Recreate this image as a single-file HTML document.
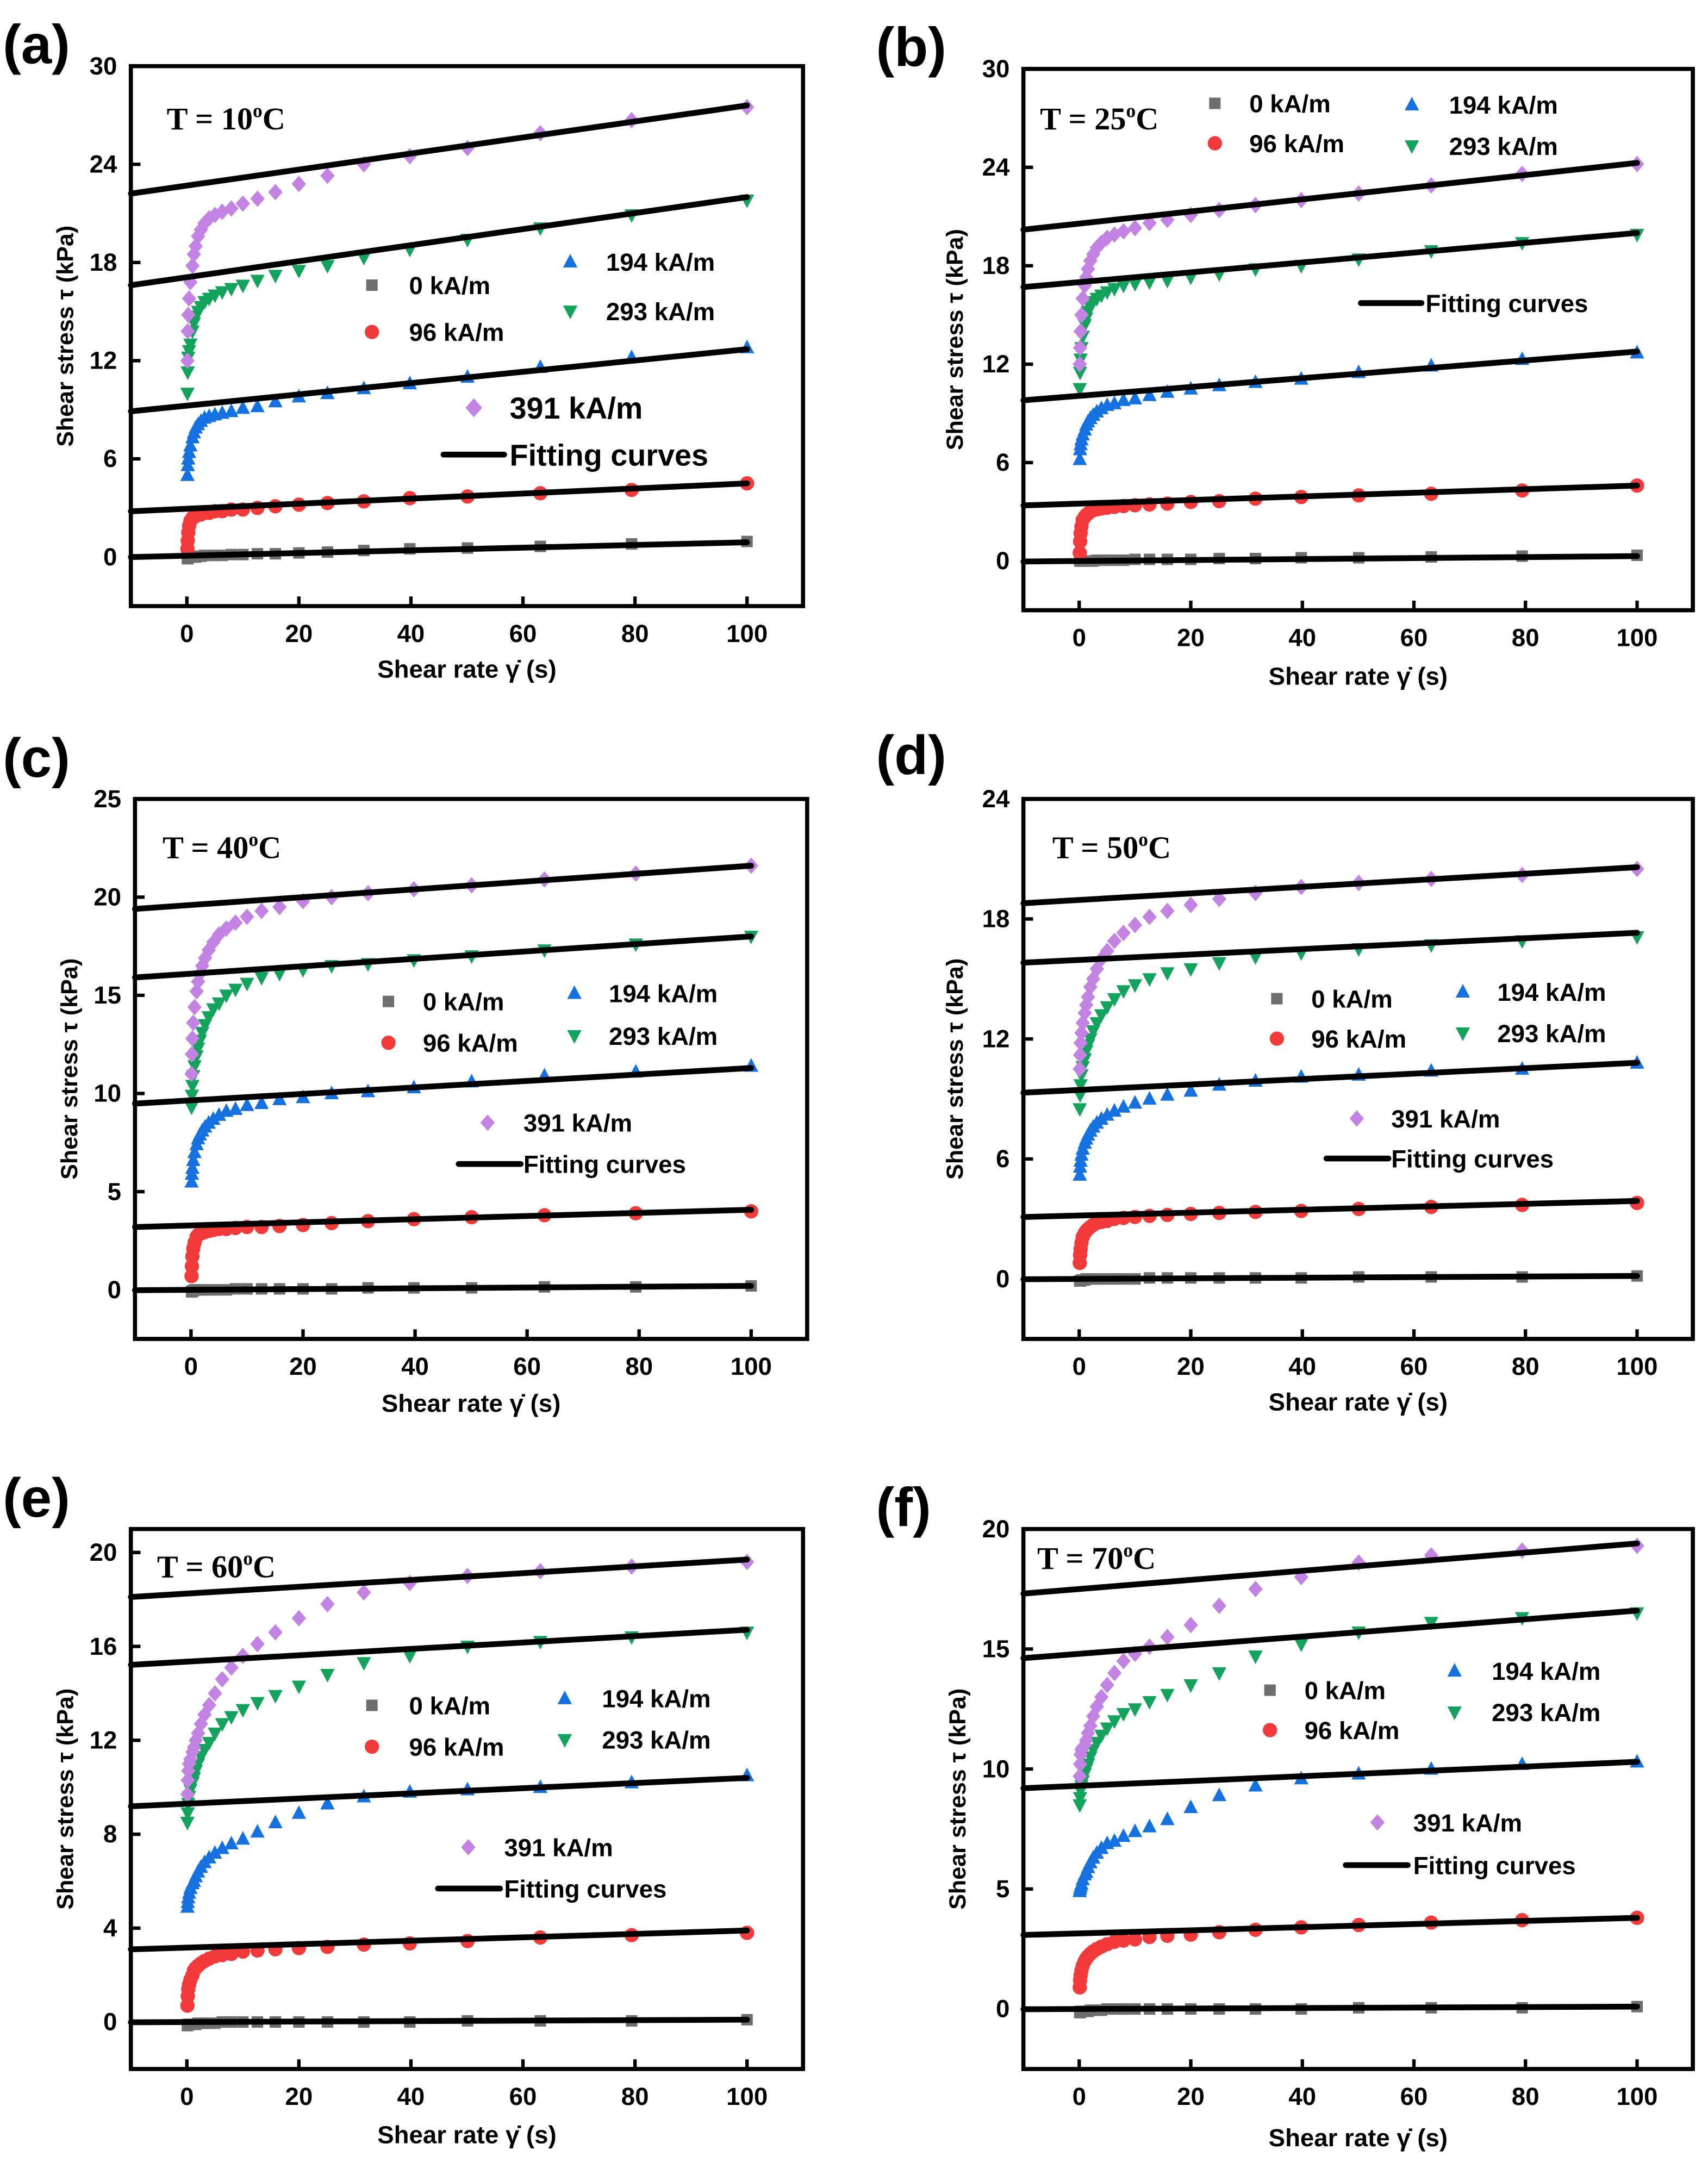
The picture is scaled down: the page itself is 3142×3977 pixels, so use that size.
<!DOCTYPE html>
<html><head><meta charset="utf-8"><style>
html,body{margin:0;padding:0;background:#fff;}
svg{display:block;}
text{font-family:"Liberation Sans",sans-serif;font-weight:bold;}
</style></head><body>
<svg id="fig" width="3142" height="3977" viewBox="0 0 1240 1569.5" xmlns="http://www.w3.org/2000/svg"></svg>
<script>
// shared shear-rate sample points (1/s)
const shearRates = [0.1,0.16,0.25,0.4,0.63,1,1.26,1.58,2,2.51,3.16,3.98,5.01,6.31,7.94,10,12.6,15.8,20,25.1,31.6,39.8,50.1,63.1,79.4,100];
const seriesNames = ['0 kA/m','96 kA/m','194 kA/m','293 kA/m','391 kA/m'];
const panelLabels = ['(a)','(b)','(c)','(d)','(e)','(f)'];
const panelTemps = ['10','25','40','50','60','70'];
const yTickLabels = [[0,6,12,18,24,30],[0,6,12,18,24,30],[0,5,10,15,20,25],[0,6,12,18,24],[0,4,8,12,16,20],[0,5,10,15,20]];
const xTickLabels = [0,20,40,60,80,100];
const yRanges = [[-3,30],[-3,30],[-2.5,25],[-3,24],[-2,21],[-2.5,20]];
// series values per panel: [0, 96, 194, 293, 391]
const dataA0=[-0.1,-0.1,0,0,0,0,0,0,0.05,0.05,0.1,0.1,0.1,0.1,0.15,0.15,0.2,0.2,0.25,0.3,0.4,0.5,0.55,0.65,0.8,0.95];
const dataA1=[0.5,1.0,1.5,1.9,2.2,2.4,2.5,2.5,2.6,2.6,2.7,2.7,2.8,2.8,2.9,2.9,3.0,3.1,3.2,3.3,3.4,3.6,3.7,3.9,4.1,4.5];
const dataA2=[5.0,5.6,6.0,6.4,6.8,7.3,7.6,7.9,8.1,8.3,8.5,8.6,8.7,8.8,8.9,9.1,9.2,9.5,9.8,10.0,10.3,10.6,11.0,11.6,12.2,12.8];
const dataA3=[10,11.3,12.2,12.6,13.0,13.8,14.3,14.7,15.0,15.3,15.6,15.8,16.0,16.2,16.4,16.6,16.9,17.2,17.5,17.8,18.3,18.8,19.4,20.1,20.9,21.8];
const dataA4=[12,13.8,14.8,15.8,16.8,17.8,18.5,19.0,19.6,20.0,20.4,20.7,20.9,21.1,21.3,21.6,21.9,22.3,22.8,23.3,24.0,24.5,25.0,25.9,26.7,27.5];
const dataB0=[0,0,0,0,0,0,0,0,0,0,0.05,0.05,0.05,0.05,0.05,0.1,0.1,0.1,0.1,0.15,0.15,0.2,0.2,0.25,0.3,0.35];
const dataB1=[0.5,1.2,1.7,2.1,2.5,2.7,2.8,2.9,3.0,3.1,3.15,3.2,3.25,3.3,3.35,3.4,3.45,3.5,3.6,3.65,3.8,3.9,4.0,4.1,4.3,4.6];
const dataB2=[6.2,6.8,7.1,7.4,7.7,8.0,8.3,8.5,8.7,8.9,9.1,9.3,9.5,9.6,9.8,9.9,10.1,10.3,10.5,10.7,10.9,11.1,11.5,11.9,12.3,12.7];
const dataB3=[10.5,11.5,12.3,13.0,13.7,14.4,14.8,15.2,15.5,15.8,16.0,16.2,16.4,16.6,16.8,16.9,17.0,17.1,17.3,17.5,17.8,18.0,18.4,18.9,19.4,19.9];
const dataB4=[12,13,14,15,16,16.8,17.3,17.8,18.3,18.7,19.1,19.4,19.7,19.9,20.1,20.3,20.6,20.8,21.1,21.4,21.7,22.0,22.4,22.9,23.6,24.2];
const dataC0=[-0.1,-0.1,-0.05,-0.05,0,0,0,0,0,0,0,0,0,0,0.05,0.05,0.05,0.05,0.05,0.05,0.1,0.1,0.1,0.15,0.15,0.2];
const dataC1=[0.7,1.2,1.7,2.1,2.4,2.7,2.8,2.85,2.9,2.95,3.0,3.05,3.1,3.1,3.15,3.2,3.2,3.25,3.3,3.4,3.5,3.6,3.7,3.8,3.9,4.0];
const dataC2=[5.5,5.9,6.2,6.6,7.0,7.4,7.7,7.9,8.1,8.3,8.5,8.7,8.9,9.1,9.2,9.4,9.5,9.7,9.8,10.0,10.1,10.3,10.6,10.9,11.1,11.4];
const dataC3=[9.3,9.9,10.4,10.9,11.4,11.9,12.3,12.7,13.1,13.5,13.9,14.3,14.6,15.0,15.3,15.6,15.9,16.1,16.3,16.5,16.6,16.8,17.0,17.3,17.6,18.0];
const dataC4=[11,12,12.8,13.6,14.4,15.2,15.7,16.1,16.5,16.9,17.3,17.7,18.1,18.4,18.7,19.0,19.3,19.5,19.8,20.0,20.2,20.4,20.6,20.9,21.2,21.6];
const dataD0=[-0.1,-0.1,-0.1,-0.05,-0.05,-0.05,0,0,0,0,0,0,0,0,0,0,0.05,0.05,0.05,0.05,0.05,0.05,0.1,0.1,0.1,0.15];
const dataD1=[0.8,1.2,1.5,1.8,2.1,2.3,2.4,2.5,2.6,2.7,2.8,2.85,2.9,3.0,3.05,3.1,3.15,3.2,3.25,3.3,3.35,3.4,3.5,3.6,3.7,3.8];
const dataD2=[5.2,5.6,5.9,6.2,6.5,6.8,7.0,7.2,7.4,7.6,7.8,8.0,8.2,8.4,8.6,8.8,9.0,9.2,9.4,9.7,9.9,10.1,10.2,10.4,10.5,10.8];
const dataD3=[8.5,9.2,9.7,10.2,10.6,11.0,11.4,11.7,12.0,12.4,12.8,13.2,13.6,14.0,14.4,14.7,15.0,15.3,15.5,15.8,16.1,16.3,16.5,16.7,16.9,17.1];
const dataD4=[10.5,11.2,11.8,12.3,12.8,13.3,13.7,14.1,14.6,15.0,15.5,16.0,16.4,16.9,17.3,17.7,18.1,18.4,18.7,19.0,19.3,19.6,19.8,20.0,20.2,20.5];
const dataE0=[-0.15,-0.15,-0.1,-0.1,-0.1,-0.1,-0.1,-0.1,-0.05,-0.05,-0.05,-0.05,-0.05,0,0,0,0,0,0,0,0,0,0.05,0.05,0.05,0.1];
const dataE1=[0.7,1.1,1.4,1.6,1.8,2.0,2.2,2.3,2.4,2.5,2.6,2.7,2.8,2.85,2.9,3.0,3.05,3.1,3.15,3.2,3.3,3.35,3.45,3.6,3.7,3.8];
const dataE2=[4.9,5.1,5.3,5.5,5.7,5.9,6.0,6.2,6.4,6.6,6.8,7.0,7.2,7.4,7.6,7.8,8.1,8.5,8.9,9.3,9.6,9.8,9.9,10.0,10.2,10.5];
const dataE3=[8.5,8.9,9.3,9.6,9.9,10.2,10.4,10.7,11.0,11.3,11.6,11.9,12.3,12.7,13.0,13.3,13.6,13.9,14.3,14.8,15.3,15.6,16.0,16.2,16.4,16.6];
const dataE4=[9.7,10.3,10.7,11.0,11.2,11.5,11.7,12.0,12.3,12.7,13.1,13.5,14.0,14.6,15.1,15.6,16.1,16.6,17.2,17.8,18.3,18.7,19.0,19.2,19.4,19.6];
const dataF0=[-0.15,-0.15,-0.1,-0.1,-0.1,-0.1,-0.1,-0.1,-0.05,-0.05,-0.05,-0.05,0,0,0,0,0,0,0,0,0,0,0.05,0.05,0.05,0.1];
const dataF1=[0.9,1.2,1.4,1.6,1.8,2.0,2.1,2.2,2.3,2.4,2.5,2.6,2.7,2.8,2.85,2.9,3.0,3.05,3.1,3.2,3.3,3.4,3.5,3.6,3.7,3.8];
const dataF2=[4.9,5.0,5.1,5.2,5.4,5.6,5.7,5.9,6.1,6.3,6.5,6.7,6.9,7.0,7.2,7.4,7.6,7.9,8.4,8.9,9.3,9.6,9.8,10.0,10.2,10.3];
const dataF3=[8.5,8.8,9.1,9.3,9.5,9.8,10.0,10.2,10.5,10.8,11.1,11.4,11.7,12.0,12.3,12.5,12.8,13.1,13.5,14.0,14.7,15.2,15.7,16.1,16.3,16.5];
const dataF4=[9.7,10.2,10.6,10.8,10.9,11.0,11.2,11.5,11.8,12.2,12.6,13.0,13.5,14.0,14.5,14.8,15.1,15.5,16.0,16.8,17.5,18.0,18.6,18.9,19.1,19.3];
// linear fit intercepts and slopes per panel (series order 0..391)
const fitIntercepts = [[0.08,2.95,9.25,17.1,22.7],[0.0,3.5,10.07,17.0,20.57],[0.0,3.28,9.65,16.1,19.6],[0.0,3.17,9.45,15.95,18.95],[0.0,3.17,9.3,15.35,18.25],[0.0,3.15,9.3,14.8,17.5]];
const fitSlopes = [[0.0082,0.0155,0.0345,0.049,0.049],[0.003,0.011,0.027,0.030,0.037],[0.002,0.008,0.0165,0.019,0.02],[0.0015,0.0073,0.0136,0.0136,0.0164],[0.001,0.0073,0.011,0.0136,0.0145],[0.001,0.0065,0.01,0.018,0.019]];
const panelData = [[dataA0,dataA1,dataA2,dataA3,dataA4],[dataB0,dataB1,dataB2,dataB3,dataB4],[dataC0,dataC1,dataC2,dataC3,dataC4],[dataD0,dataD1,dataD2,dataD3,dataD4],[dataE0,dataE1,dataE2,dataE3,dataE4],[dataF0,dataF1,dataF2,dataF3,dataF4]];

// layout (view units)
const frames=[[95,48,583,440],[743,50,1229,443],[98,580,586,972],[743,580,1229,972],[95,1110,583,1502],[743,1110,1229,1502]];
const labelPos=[[2,46],[636,48],[2,564],[636,562],[2,1101],[636,1108]];
const titlePos=[[121,94],[755,94],[118,623],[764,623],[114,1145],[753,1139]];
const yTitleX=[47,693,50,693,47,695];
const xTitleY=[492,497,1025,1024,1556,1558];
const legends=[
 {e:[[270,207,297],[270,241,297],[414,190,440],[414,226,440],[344,296,370,22]],f:[322,366,330,370,22]},
 {e:[[882,75,907],[882,104,907],[1025,76,1052],[1025,106,1052]],f:[988,1032,220,1035,18]},
 {e:[[282,727,307],[282,757,307],[417,721,442],[417,752,442],[354,815,380,18]],f:[333,378,845,380,18]},
 {e:[[927,725,952],[927,754,952],[1062,720,1087],[1062,750,1087],[985,812,1010,18]],f:[963,1008,841,1010,18]},
 {e:[[270,1238,297],[270,1268,297],[410,1233,437],[410,1263,437],[340,1341,366,18]],f:[318,363,1371,366,18]},
 {e:[[922,1227,947],[922,1256,947],[1056,1213,1083],[1056,1243,1083],[1000,1323,1026,18]],f:[977,1022,1354,1026,18]}
];
const colors=['#6e6e6e','#f23a3a','#1570e0','#14a35c','#c283e3'];
const NS='http://www.w3.org/2000/svg';
const svg=document.getElementById('fig');
function mk(tag,attrs,parent){const el=document.createElementNS(NS,tag);for(const k in attrs)el.setAttribute(k,attrs[k]);(parent||svg).appendChild(el);return el;}
function marker(g,kind,x,y,s){
  let el;
  if(kind===0) el=mk('rect',{x:x-s*0.8,y:y-s*0.8,width:s*1.6,height:s*1.6},g);
  else if(kind===1) el=mk('circle',{cx:x,cy:y,r:s},g);
  else if(kind===2) el=mk('polygon',{points:`${x},${y-s*1.1} ${x-s},${y+s*0.8} ${x+s},${y+s*0.8}`},g);
  else if(kind===3) el=mk('polygon',{points:`${x},${y+s*1.1} ${x-s},${y-s*0.8} ${x+s},${y-s*0.8}`},g);
  else el=mk('polygon',{points:`${x},${y-s*1.15} ${x+s},${y} ${x},${y+s*1.15} ${x-s},${y}`},g);
  el.setAttribute('fill',colors[kind]);
  return el;
}
for(let p=0;p<6;p++){
  const [L,T,R,B]=frames[p];const [ymin,ymax]=yRanges[p];
  const X=v=>L+(v+10)/120*(R-L);
  const Y=v=>B-(v-ymin)/(ymax-ymin)*(B-T);
  const g=mk('g',{});
  
  
  const lab=mk('text',{x:labelPos[p][0],y:labelPos[p][1],'font-size':40},g);lab.textContent=panelLabels[p];
  
  
  for(let s=0;s<5;s++){
    const sg=mk('g',{},g);
    
    
    panelData[p][s].forEach((v,i)=>{const m=marker(sg,s,X(shearRates[i]),Y(v),5.2);
      
      });
  }
  for(let s=0;s<5;s++){
    const b=fitIntercepts[p][s],m=fitSlopes[p][s];
    const ln=mk('line',{x1:X(-10),y1:Y(b-10*m),x2:X(100),y2:Y(b+100*m),stroke:'#000','stroke-width':4.2,'stroke-linecap':'round'},g);
    
    
  }
  const fr=mk('rect',{x:L,y:T,width:R-L,height:B-T,fill:'none',stroke:'#000','stroke-width':3},g);
  
  
  xTickLabels.forEach(v=>{
    mk('line',{x1:X(v),y1:B,x2:X(v),y2:B-7,stroke:'#000','stroke-width':2.5},g);
    const t=mk('text',{x:X(v),y:B+26,'font-size':18,'text-anchor':'middle'},g);t.textContent=v;
    
    
  });
  yTickLabels[p].forEach(v=>{
    mk('line',{x1:L,y1:Y(v),x2:L+7,y2:Y(v),stroke:'#000','stroke-width':2.5},g);
    const t=mk('text',{x:L-10,y:Y(v)+6,'font-size':18,'text-anchor':'end'},g);t.textContent=v;
    
    
  });
  const cy=(T+B)/2;
  const yt=mk('text',{x:yTitleX[p],y:cy,'font-size':17,'text-anchor':'middle',transform:`rotate(-90 ${yTitleX[p]} ${cy})`,dy:6},g);
  yt.textContent='Shear stress τ (kPa)';
  
  
  const xt=mk('text',{x:(X(0)+X(100))/2,y:xTitleY[p],'font-size':18,'text-anchor':'middle'},g);
  xt.textContent='Shear rate γ̇ (s)';
  
  
  const tt=mk('text',{x:titlePos[p][0],y:titlePos[p][1],'font-size':23,style:'font-family:"Liberation Serif",serif;font-weight:bold'},g);
  tt.innerHTML='T = '+panelTemps[p]+'<tspan dy="-9" font-size="14">o</tspan><tspan dy="9">C</tspan>';
  
  
  const lg=mk('g',{},g);
  
  
  legends[p].e.forEach((e,s)=>{
    const fs=e[3]||18;
    marker(lg,s,e[0],e[1],fs>20?6:5.2);
    const t=mk('text',{x:e[2],y:e[1]+fs*0.36,'font-size':fs},lg);t.textContent=seriesNames[s];
    
    
  });
  const f=legends[p].f;
  mk('line',{x1:f[0],y1:f[2],x2:f[1],y2:f[2],stroke:'#000','stroke-width':4.2,'stroke-linecap':'round'},lg);
  const ft=mk('text',{x:f[3],y:f[2]+f[4]*0.36,'font-size':f[4]},lg);ft.textContent='Fitting curves';
  
  
}
</script>
</body></html>
